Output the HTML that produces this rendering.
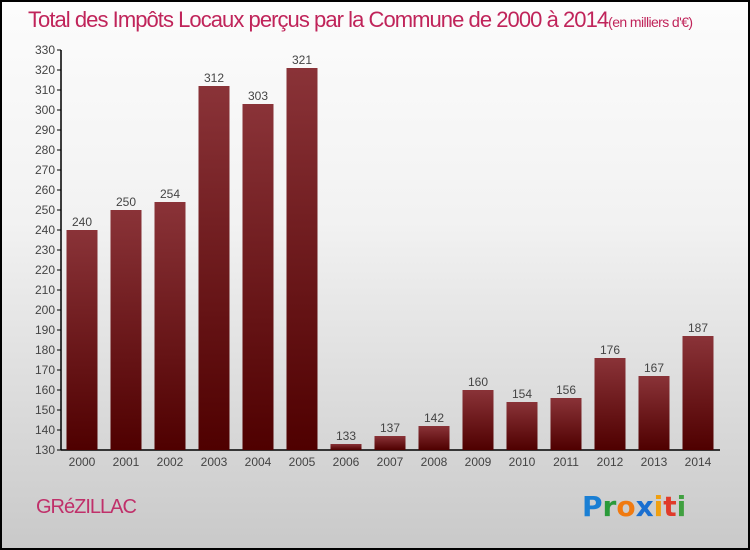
<!DOCTYPE html>
<html><head><meta charset="utf-8"><style>
body{margin:0}
#wrap{position:relative;width:746px;height:546px;border:2px solid #000;background:linear-gradient(#fcfcfc,#f2f2f2 40%,#c9c9c9);font-family:"Liberation Sans",sans-serif;overflow:hidden}
#title{position:absolute;left:26px;top:5px;font-size:22px;color:#c0245a;white-space:nowrap;letter-spacing:-0.95px}
#title small{font-size:14px;letter-spacing:-0.6px}
#city{position:absolute;left:34px;top:494px;font-size:20px;color:#c0306a;letter-spacing:-1px}
#logo{position:absolute;left:580px;top:488px;font-size:28px;font-weight:bold;font-family:"DejaVu Sans",sans-serif}
</style></head><body>
<div id="wrap">
<div id="title">Total des Impôts Locaux perçus par la Commune de 2000 à 2014<small>(en milliers d'€)</small></div>
<svg id="chart" width="746" height="546" style="position:absolute;left:0;top:0">
<defs><linearGradient id="g" x1="0" y1="0" x2="0" y2="1"><stop offset="0" stop-color="#8a3338"/><stop offset="1" stop-color="#4f0000"/></linearGradient></defs>
</svg>
<div id="city">GRéZILLAC</div>
<div id="logo"><span style="color:#1a7fd4">P</span><span style="color:#2a9a3a">r</span><span style="color:#f07a10">o</span><span style="color:#1a6fd0">x</span><span style="color:#f0a010">i</span><span style="color:#e03a2a">t</span><span style="color:#40a040">i</span></div>
</div>
<script>
const years=["2000","2001","2002","2003","2004","2005","2006","2007","2008","2009","2010","2011","2012","2013","2014"];
const values=[240,250,254,312,303,321,133,137,142,160,154,156,176,167,187];
const yTicks=[130,140,150,160,170,180,190,200,210,220,230,240,250,260,270,280,290,300,310,320,330];
const NS="http://www.w3.org/2000/svg";
const svg=document.getElementById('chart');
const ox=-2,oy=-2;
const yMin=130,yMax=330,yBot=450,yTop=50,xL=61,xR=720;
const y=v=>yBot-(v-yMin)/(yMax-yMin)*(yBot-yTop)+oy;
const step=44,x0=82;
const xc=i=>x0+i*step+ox;
function mk(t,a){const e=document.createElementNS(NS,t);for(const k in a)e.setAttribute(k,a[k]);svg.appendChild(e);return e;}
const ax=mk('line',{x1:xL+ox,y1:yTop+oy,x2:xL+ox,y2:yBot+oy,stroke:'#000','stroke-width':1.5});


const bx=mk('line',{x1:xL+ox,y1:yBot+oy,x2:xR+ox,y2:yBot+oy,stroke:'#000','stroke-width':1.5});


yTicks.forEach(v=>{
 mk('line',{x1:xL+ox-4,y1:y(v),x2:xL+ox,y2:y(v),stroke:'#000'});
 const t=mk('text',{x:xL+ox-6,y:y(v)+4,'text-anchor':'end','font-size':12,fill:'#444'});
 t.textContent=v;
 
 
});
values.forEach((v,i)=>{
 const r=mk('rect',{x:xc(i)-15.5,y:y(v),width:31,height:y(yMin)-y(v),fill:'url(#g)'});
 
 
 const l=mk('text',{x:xc(i),y:y(v)-4,'text-anchor':'middle','font-size':12,fill:'#444'});
 l.textContent=v;
 
 
 const xt=mk('text',{x:xc(i),y:yBot+oy+16,'text-anchor':'middle','font-size':12,fill:'#444'});
 xt.textContent=years[i];
 
 
});
</script>
</body></html>
